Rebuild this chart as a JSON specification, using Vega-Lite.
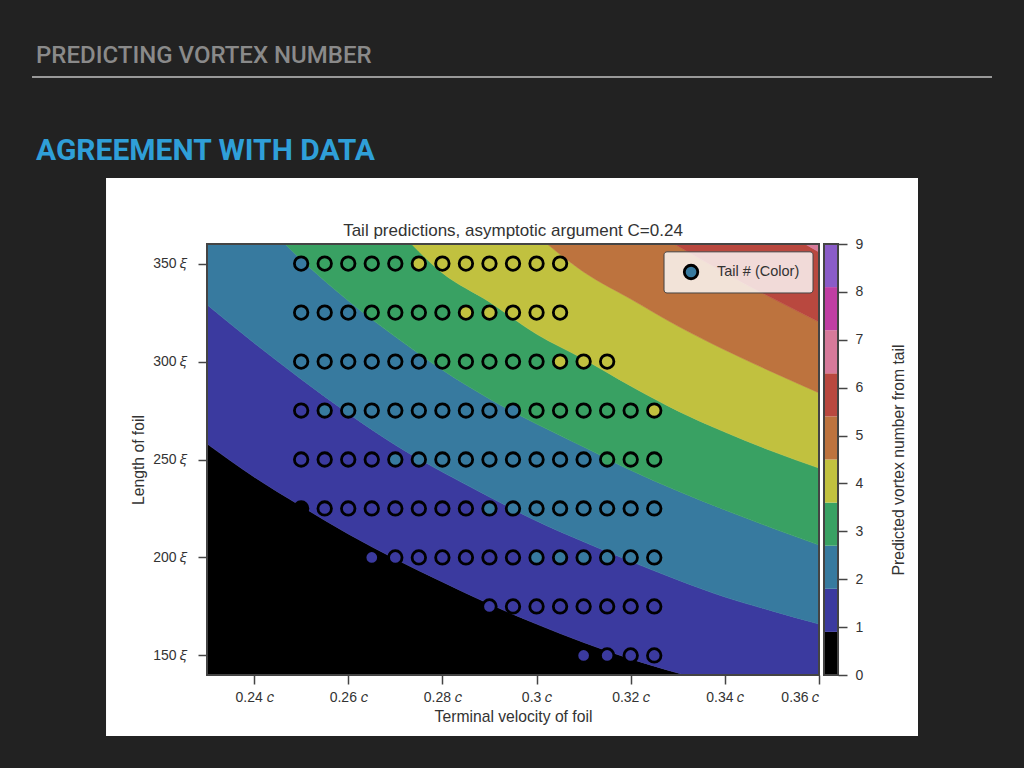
{
  "$schema": "https://vega.github.io/schema/vega-lite/v6.json",
  "width": 612,
  "height": 431,
  "autosize": "none",
  "padding": {"left": 207, "top": 244, "right": 205, "bottom": 93},
  "background": "#222222",
  "datasets": {
    "regions": [
      {"v":0.23,"level":0,"lo":100,"hi":258.0},{"v":0.24,"level":0,"lo":100,"hi":241.1},{"v":0.25,"level":0,"lo":100,"hi":226.2},{"v":0.26,"level":0,"lo":100,"hi":212.0},{"v":0.27,"level":0,"lo":100,"hi":199.2},{"v":0.28,"level":0,"lo":100,"hi":187.5},{"v":0.29,"level":0,"lo":100,"hi":176.2},{"v":0.30,"level":0,"lo":100,"hi":166.0},{"v":0.31,"level":0,"lo":100,"hi":156.6},{"v":0.32,"level":0,"lo":100,"hi":148.2},{"v":0.33,"level":0,"lo":100,"hi":141.0},{"v":0.34,"level":0,"lo":100,"hi":134.0},
      {"v":0.23,"level":1,"lo":258.0,"hi":329.0},{"v":0.24,"level":1,"lo":241.1,"hi":309.5},{"v":0.25,"level":1,"lo":226.2,"hi":291.0},{"v":0.26,"level":1,"lo":212.0,"hi":273.5},{"v":0.27,"level":1,"lo":199.2,"hi":257.4},{"v":0.28,"level":1,"lo":187.5,"hi":243.6},{"v":0.29,"level":1,"lo":176.2,"hi":230.9},{"v":0.30,"level":1,"lo":166.0,"hi":218.6},{"v":0.31,"level":1,"lo":156.6,"hi":208.0},{"v":0.32,"level":1,"lo":148.2,"hi":198.0},{"v":0.33,"level":1,"lo":141.0,"hi":188.5},{"v":0.34,"level":1,"lo":134.0,"hi":179.8},{"v":0.35,"level":1,"lo":127.0,"hi":172.7},{"v":0.36,"level":1,"lo":120.0,"hi":166.0},
      {"v":0.23,"level":2,"lo":329.0,"hi":400.3},{"v":0.24,"level":2,"lo":309.5,"hi":376.0},{"v":0.25,"level":2,"lo":291.0,"hi":352.0},{"v":0.26,"level":2,"lo":273.5,"hi":331.0},{"v":0.27,"level":2,"lo":257.4,"hi":312.6},{"v":0.28,"level":2,"lo":243.6,"hi":295.7},{"v":0.29,"level":2,"lo":230.9,"hi":280.9},{"v":0.30,"level":2,"lo":218.6,"hi":268.1},{"v":0.31,"level":2,"lo":208.0,"hi":256.4},{"v":0.32,"level":2,"lo":198.0,"hi":244.5},{"v":0.33,"level":2,"lo":188.5,"hi":233.9},{"v":0.34,"level":2,"lo":179.8,"hi":224.2},{"v":0.35,"level":2,"lo":172.7,"hi":215.0},{"v":0.36,"level":2,"lo":166.0,"hi":206.3},
      {"v":0.23,"level":3,"lo":400.3,"hi":469.2},{"v":0.24,"level":3,"lo":376.0,"hi":443.7},{"v":0.25,"level":3,"lo":352.0,"hi":418.2},{"v":0.26,"level":3,"lo":331.0,"hi":392.7},{"v":0.27,"level":3,"lo":312.6,"hi":368.7},{"v":0.28,"level":3,"lo":295.7,"hi":345.2},{"v":0.29,"level":3,"lo":280.9,"hi":330.4},{"v":0.30,"level":3,"lo":268.1,"hi":314.0},{"v":0.31,"level":3,"lo":256.4,"hi":301.3},{"v":0.32,"level":3,"lo":244.5,"hi":287.5},{"v":0.33,"level":3,"lo":233.9,"hi":274.8},{"v":0.34,"level":3,"lo":224.2,"hi":264.0},{"v":0.35,"level":3,"lo":215.0,"hi":254.3},{"v":0.36,"level":3,"lo":206.3,"hi":245.6},
      {"v":0.27,"level":4,"lo":368.7,"hi":433.5},{"v":0.28,"level":4,"lo":345.2,"hi":408.0},{"v":0.29,"level":4,"lo":330.4,"hi":385.0},{"v":0.30,"level":4,"lo":314.0,"hi":364.6},{"v":0.31,"level":4,"lo":301.3,"hi":345.7},{"v":0.32,"level":4,"lo":287.5,"hi":331.9},{"v":0.33,"level":4,"lo":274.8,"hi":318.1},{"v":0.34,"level":4,"lo":264.0,"hi":305.9},{"v":0.35,"level":4,"lo":254.3,"hi":294.7},{"v":0.36,"level":4,"lo":245.6,"hi":284.0},
      {"v":0.30,"level":5,"lo":364.6,"hi":402.9},{"v":0.31,"level":5,"lo":345.7,"hi":387.6},{"v":0.32,"level":5,"lo":331.9,"hi":373.3},{"v":0.33,"level":5,"lo":318.1,"hi":359.0},{"v":0.34,"level":5,"lo":305.9,"hi":345.2},{"v":0.35,"level":5,"lo":294.7,"hi":332.4},{"v":0.36,"level":5,"lo":284.0,"hi":320.2},
      {"v":0.32,"level":6,"lo":373.3,"hi":410.5},{"v":0.33,"level":6,"lo":359.0,"hi":396.7},{"v":0.34,"level":6,"lo":345.2,"hi":383.5},{"v":0.35,"level":6,"lo":332.4,"hi":369.7},{"v":0.36,"level":6,"lo":320.2,"hi":355.9},
      {"v":0.35,"level":7,"lo":369.7,"hi":400},{"v":0.36,"level":7,"lo":355.9,"hi":400}
    ],
    "tails": [
      {"v":0.25,"len":350,"tail":2},{"v":0.255,"len":350,"tail":3},{"v":0.26,"len":350,"tail":3},{"v":0.265,"len":350,"tail":3},{"v":0.27,"len":350,"tail":3},{"v":0.275,"len":350,"tail":4},{"v":0.28,"len":350,"tail":4},{"v":0.285,"len":350,"tail":4},{"v":0.29,"len":350,"tail":4},{"v":0.295,"len":350,"tail":4},{"v":0.30,"len":350,"tail":4},{"v":0.305,"len":350,"tail":4},
      {"v":0.25,"len":325,"tail":2},{"v":0.255,"len":325,"tail":2},{"v":0.26,"len":325,"tail":2},{"v":0.265,"len":325,"tail":3},{"v":0.27,"len":325,"tail":3},{"v":0.275,"len":325,"tail":3},{"v":0.28,"len":325,"tail":3},{"v":0.285,"len":325,"tail":4},{"v":0.29,"len":325,"tail":4},{"v":0.295,"len":325,"tail":4},{"v":0.30,"len":325,"tail":4},{"v":0.305,"len":325,"tail":4},
      {"v":0.25,"len":300,"tail":2},{"v":0.255,"len":300,"tail":2},{"v":0.26,"len":300,"tail":2},{"v":0.265,"len":300,"tail":2},{"v":0.27,"len":300,"tail":2},{"v":0.275,"len":300,"tail":2},{"v":0.28,"len":300,"tail":3},{"v":0.285,"len":300,"tail":3},{"v":0.29,"len":300,"tail":3},{"v":0.295,"len":300,"tail":3},{"v":0.30,"len":300,"tail":3},{"v":0.305,"len":300,"tail":4},{"v":0.31,"len":300,"tail":4},{"v":0.315,"len":300,"tail":4},
      {"v":0.25,"len":275,"tail":1},{"v":0.255,"len":275,"tail":2},{"v":0.26,"len":275,"tail":2},{"v":0.265,"len":275,"tail":2},{"v":0.27,"len":275,"tail":2},{"v":0.275,"len":275,"tail":2},{"v":0.28,"len":275,"tail":2},{"v":0.285,"len":275,"tail":2},{"v":0.29,"len":275,"tail":2},{"v":0.295,"len":275,"tail":2},{"v":0.30,"len":275,"tail":3},{"v":0.305,"len":275,"tail":3},{"v":0.31,"len":275,"tail":3},{"v":0.315,"len":275,"tail":3},{"v":0.32,"len":275,"tail":3},{"v":0.325,"len":275,"tail":4},
      {"v":0.25,"len":250,"tail":1},{"v":0.255,"len":250,"tail":1},{"v":0.26,"len":250,"tail":1},{"v":0.265,"len":250,"tail":1},{"v":0.27,"len":250,"tail":2},{"v":0.275,"len":250,"tail":2},{"v":0.28,"len":250,"tail":2},{"v":0.285,"len":250,"tail":2},{"v":0.29,"len":250,"tail":2},{"v":0.295,"len":250,"tail":2},{"v":0.30,"len":250,"tail":2},{"v":0.305,"len":250,"tail":2},{"v":0.31,"len":250,"tail":2},{"v":0.315,"len":250,"tail":3},{"v":0.32,"len":250,"tail":3},{"v":0.325,"len":250,"tail":3},
      {"v":0.25,"len":225,"tail":0},{"v":0.255,"len":225,"tail":1},{"v":0.26,"len":225,"tail":1},{"v":0.265,"len":225,"tail":1},{"v":0.27,"len":225,"tail":1},{"v":0.275,"len":225,"tail":1},{"v":0.28,"len":225,"tail":1},{"v":0.285,"len":225,"tail":1},{"v":0.29,"len":225,"tail":2},{"v":0.295,"len":225,"tail":2},{"v":0.30,"len":225,"tail":2},{"v":0.305,"len":225,"tail":2},{"v":0.31,"len":225,"tail":2},{"v":0.315,"len":225,"tail":2},{"v":0.32,"len":225,"tail":2},{"v":0.325,"len":225,"tail":2},
      {"v":0.265,"len":200,"tail":1},{"v":0.27,"len":200,"tail":1},{"v":0.275,"len":200,"tail":1},{"v":0.28,"len":200,"tail":1},{"v":0.285,"len":200,"tail":1},{"v":0.29,"len":200,"tail":1},{"v":0.295,"len":200,"tail":1},{"v":0.30,"len":200,"tail":2},{"v":0.305,"len":200,"tail":2},{"v":0.31,"len":200,"tail":2},{"v":0.315,"len":200,"tail":2},{"v":0.32,"len":200,"tail":2},{"v":0.325,"len":200,"tail":2},
      {"v":0.29,"len":175,"tail":1},{"v":0.295,"len":175,"tail":1},{"v":0.30,"len":175,"tail":1},{"v":0.305,"len":175,"tail":1},{"v":0.31,"len":175,"tail":1},{"v":0.315,"len":175,"tail":1},{"v":0.32,"len":175,"tail":1},{"v":0.325,"len":175,"tail":1},
      {"v":0.31,"len":150,"tail":1},{"v":0.315,"len":150,"tail":1},{"v":0.32,"len":150,"tail":1},{"v":0.325,"len":150,"tail":1}
    ],
    "bar": [
      {"level":0,"lo":0,"hi":0.9},{"level":1,"lo":0.9,"hi":1.8},{"level":2,"lo":1.8,"hi":2.7},{"level":3,"lo":2.7,"hi":3.6},{"level":4,"lo":3.6,"hi":4.5},{"level":5,"lo":4.5,"hi":5.4},{"level":6,"lo":5.4,"hi":6.3},{"level":7,"lo":6.3,"hi":7.2},{"level":8,"lo":7.2,"hi":8.1},{"level":9,"lo":8.1,"hi":9}
    ]
  },
  "layer": [
    {
      "layer": [
        {
          "data": {"values": [{}]},
          "mark": {"type": "rect", "color": "#ffffff"},
          "encoding": {
            "x": {"datum": 0.20855, "type": "quantitative", "scale": {"domain": [0.23, 0.36], "nice": false, "zero": false}, "axis": {"zindex": 1, "values": [0.24, 0.26, 0.28, 0.3, 0.32, 0.34, 0.36], "labelExpr": "datum.value + ' 𝑐'", "title": "Terminal velocity of foil", "labelPadding": 6, "titlePadding": 5}},
            "x2": {"datum": 0.38103},
            "y": {"datum": 393.7, "type": "quantitative", "scale": {"domain": [140, 360], "nice": false, "zero": false}, "axis": {"zindex": 1, "values": [150, 200, 250, 300, 350], "labelExpr": "datum.value + ' 𝜉'", "title": "Length of foil", "labelPadding": 11, "titlePadding": 6}},
            "y2": {"datum": 108.9}
          }
        },
        {
          "data": {"values": [{"label": "PREDICTING VORTEX NUMBER"}]},
          "mark": {"type": "text", "font": "Roboto", "fontWeight": 500, "fontSize": 24, "color": "#8a8a8a", "align": "left", "baseline": "alphabetic"},
          "encoding": {"x": {"datum": 0.19368, "type": "quantitative"}, "y": {"datum": 452.4, "type": "quantitative"}, "text": {"field": "label"}}
        },
        {
          "data": {"values": [{"label": "AGREEMENT WITH DATA"}]},
          "mark": {"type": "text", "font": "Roboto", "fontWeight": "bold", "fontSize": 30, "color": "#2f9fd8", "align": "left", "baseline": "alphabetic"},
          "encoding": {"x": {"datum": 0.19368, "type": "quantitative"}, "y": {"datum": 402.9, "type": "quantitative"}, "text": {"field": "label"}}
        },
        {
          "data": {"values": [{}]},
          "mark": {"type": "rule", "color": "#999999", "strokeWidth": 2},
          "encoding": {"x": {"datum": 0.19283, "type": "quantitative"}, "x2": {"datum": 0.39675}, "y": {"datum": 445.3, "type": "quantitative"}}
        },
        {
          "data": {"values": [{"label": "Tail predictions, asymptotic argument C=0.24"}]},
          "mark": {"type": "text", "font": "Liberation Sans", "fontSize": 17, "color": "#333333", "align": "center", "baseline": "middle"},
          "encoding": {"x": {"datum": 0.295, "type": "quantitative"}, "y": {"datum": 366.6, "type": "quantitative"}, "text": {"field": "label"}}
        },
        {
          "data": {"name": "regions"},
          "mark": {"type": "area", "clip": true, "interpolate": "monotone", "strokeWidth": 0.5},
          "encoding": {
            "x": {"field": "v", "type": "quantitative"},
            "y": {"field": "lo", "type": "quantitative"},
            "y2": {"field": "hi"},
            "fill": {"field": "level", "type": "ordinal", "legend": null, "scale": {"domain": [0, 1, 2, 3, 4, 5, 6, 7, 8, 9], "range": ["#000000", "#3b3a9f", "#377a9f", "#39a163", "#c1c13f", "#bd733e", "#b9483f", "#d67a9a", "#c03ea3", "#8a5cc8"]}},
            "stroke": {"field": "level", "type": "ordinal", "legend": null, "scale": {"domain": [0, 1, 2, 3, 4, 5, 6, 7, 8, 9], "range": ["#000000", "#3b3a9f", "#377a9f", "#39a163", "#c1c13f", "#bd733e", "#b9483f", "#d67a9a", "#c03ea3", "#8a5cc8"]}}
          }
        },
        {
          "data": {"name": "tails"},
          "mark": {"type": "point", "filled": false, "opacity": 1, "fillOpacity": 1, "stroke": "#000000", "strokeWidth": 2.8, "size": 182, "shape": "circle"},
          "encoding": {
            "x": {"field": "v", "type": "quantitative"},
            "y": {"field": "len", "type": "quantitative"},
            "fill": {"field": "tail", "type": "ordinal", "legend": null}
          }
        },
        {
          "data": {"values": [{}]},
          "mark": {"type": "rect", "fill": "#ffffff", "fillOpacity": 0.8, "stroke": "#444444", "strokeWidth": 1, "cornerRadius": 3},
          "encoding": {"x": {"datum": 0.32708, "type": "quantitative"}, "x2": {"datum": 0.35873}, "y": {"datum": 356.0, "type": "quantitative"}, "y2": {"datum": 335.0}}
        },
        {
          "data": {"values": [{}]},
          "mark": {"type": "point", "filled": true, "fill": "#377a9f", "opacity": 1, "stroke": "#000000", "strokeWidth": 2.8, "size": 182, "shape": "circle"},
          "encoding": {"x": {"datum": 0.33282, "type": "quantitative"}, "y": {"datum": 345.7, "type": "quantitative"}}
        },
        {
          "data": {"values": [{"label": "Tail # (Color)"}]},
          "mark": {"type": "text", "font": "Liberation Sans", "fontSize": 14.5, "color": "#333333", "align": "left", "baseline": "middle"},
          "encoding": {"x": {"datum": 0.33834, "type": "quantitative"}, "y": {"datum": 345.7, "type": "quantitative"}, "text": {"field": "label"}}
        },
        {
          "data": {"values": [{}]},
          "mark": {"type": "rect", "fillOpacity": 0, "stroke": "#444444", "strokeWidth": 2},
          "encoding": {"x": {"datum": 0.23, "type": "quantitative"}, "x2": {"datum": 0.36}, "y": {"datum": 140, "type": "quantitative"}, "y2": {"datum": 360}}
        }
      ]
    },
    {
      "layer": [
        {
          "data": {"name": "bar"},
          "mark": {"type": "rect"},
          "encoding": {
            "x": {"datum": 0.36106, "type": "quantitative"},
            "x2": {"datum": 0.36404},
            "y": {"field": "lo", "type": "quantitative", "scale": {"domain": [0, 9], "nice": false, "zero": false}, "axis": {"orient": "right", "offset": 19, "zindex": 1, "values": [0, 1, 2, 3, 4, 5, 6, 7, 8, 9], "title": "Predicted vortex number from tail", "titleAngle": 270, "labelPadding": 8, "titlePadding": 44}},
            "y2": {"field": "hi"},
            "fill": {"field": "level", "type": "ordinal", "legend": null}
          }
        },
        {
          "data": {"values": [{}]},
          "mark": {"type": "rect", "fillOpacity": 0, "stroke": "#444444", "strokeWidth": 2},
          "encoding": {"x": {"datum": 0.36106, "type": "quantitative"}, "x2": {"datum": 0.36404}, "y": {"datum": 0, "type": "quantitative"}, "y2": {"datum": 9}}
        }
      ]
    }
  ],
  "resolve": {"scale": {"y": "independent"}},
  "config": {
    "view": {"stroke": null},
    "axis": {"grid": false, "domain": false, "tickColor": "#444444", "tickWidth": 1.5, "tickSize": 9, "labelColor": "#333333", "titleColor": "#333333", "labelFont": "Liberation Sans", "titleFont": "Liberation Sans", "labelFontSize": 14, "titleFontSize": 15.7, "titleFontWeight": "normal"}
  }
}
